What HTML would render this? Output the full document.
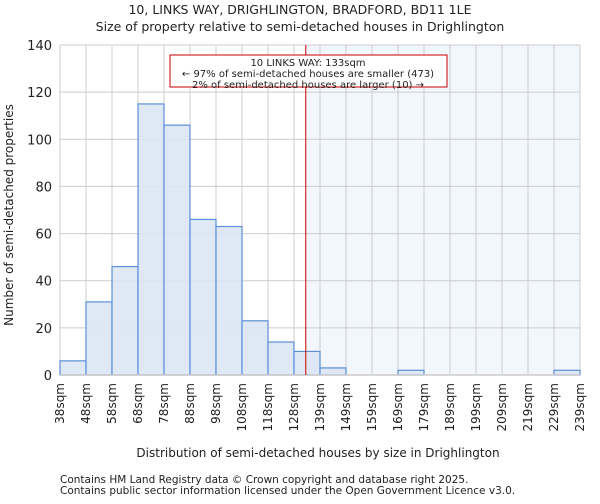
<!DOCTYPE html>
<html><head><meta charset="utf-8"><style>
body{margin:0;background:#fff;font-family:"DejaVu Sans","Liberation Sans",sans-serif}
svg text{font-family:"DejaVu Sans","Liberation Sans",sans-serif;fill:#222}
</style></head><body>
<svg id="c" width="600" height="500" xmlns="http://www.w3.org/2000/svg">
<text x="300" y="14" font-size="12.5" text-anchor="middle">10, LINKS WAY, DRIGHLINGTON, BRADFORD, BD11 1LE</text>
<text x="300" y="31" font-size="12.5" text-anchor="middle">Size of property relative to semi-detached houses in Drighlington</text>
<g id="plot"></g>
<text x="318" y="457" font-size="12" text-anchor="middle">Distribution of semi-detached houses by size in Drighlington</text>
<text transform="translate(13,215) rotate(-90)" font-size="12" text-anchor="middle" fill="#333">Number of semi-detached properties</text>
<text x="60" y="483" font-size="10.5" fill="#444">Contains HM Land Registry data © Crown copyright and database right 2025.</text>
<text x="60" y="494" font-size="10.5" fill="#444">Contains public sector information licensed under the Open Government Licence v3.0.</text>
</svg>
<script>
const categories=["38sqm","48sqm","58sqm","68sqm","78sqm","88sqm","98sqm","108sqm","118sqm","128sqm","139sqm","149sqm","159sqm","169sqm","179sqm","189sqm","199sqm","209sqm","219sqm","229sqm","239sqm"];
const counts=[6,31,46,115,106,66,63,23,14,10,3,0,0,2,0,0,0,0,0,2];
const yTicks=[0,20,40,60,80,100,120,140];
const binStart=38, binEnd=239, subjectSize=133;
const L=60,R=580,T=45,B=375,ymax=140;
const ns="http://www.w3.org/2000/svg";
const g=document.getElementById('plot');
const nb=counts.length;
const xb=i=>L+(R-L)*i/nb;
const xv=v=>L+(R-L)*(v-binStart)/(binEnd-binStart);
const y=v=>B-(B-T)*v/ymax;
function mk(t,a,p){const e=document.createElementNS(ns,t);for(const k in a)e.setAttribute(k,a[k]);(p||g).appendChild(e);return e;}
let e;
e=mk('rect',{x:xv(subjectSize),y:T,width:R-xv(subjectSize),height:B-T,fill:'#f2f6fd'});


for(const t of yTicks){e=mk('line',{x1:L,x2:R,y1:y(t),y2:y(t),stroke:'#ccc','stroke-width':1});


e=mk('text',{x:L-8,y:y(t)+5,'font-size':13,'text-anchor':'end'});e.textContent=t;

}
for(let i=0;i<=nb;i++){e=mk('line',{x1:xb(i),x2:xb(i),y1:T,y2:B,stroke:'#ccc','stroke-width':1});


const tx=xb(i)+4;
e=mk('text',{transform:`translate(${tx},${B+8}) rotate(-90)`,'font-size':12,'text-anchor':'end'});e.textContent=categories[i];

}
counts.forEach((c,i)=>{if(c<=0)return;e=mk('rect',{x:xb(i),y:y(c),width:xb(i+1)-xb(i),height:B-y(c),fill:'#dce6f4',stroke:'#5b8fd6','stroke-width':1.2,'fill-opacity':0.9});

});
e=mk('line',{x1:L,x2:R,y1:B,y2:B,stroke:'#ccc','stroke-width':1.5});


e=mk('line',{x1:xv(subjectSize),x2:xv(subjectSize),y1:T,y2:B,stroke:'#cc0000','stroke-width':1});


e=mk('rect',{x:170,y:55,width:277,height:32,fill:'#fff',stroke:'#cc0000','stroke-width':1});


const lines=["10 LINKS WAY: 133sqm","← 97% of semi-detached houses are smaller (473)","2% of semi-detached houses are larger (10) →"];
lines.forEach((s,i)=>{e=mk('text',{x:308,y:66+i*11,'font-size':10,'text-anchor':'middle'});e.textContent=s;

});
</script>
</body></html>
